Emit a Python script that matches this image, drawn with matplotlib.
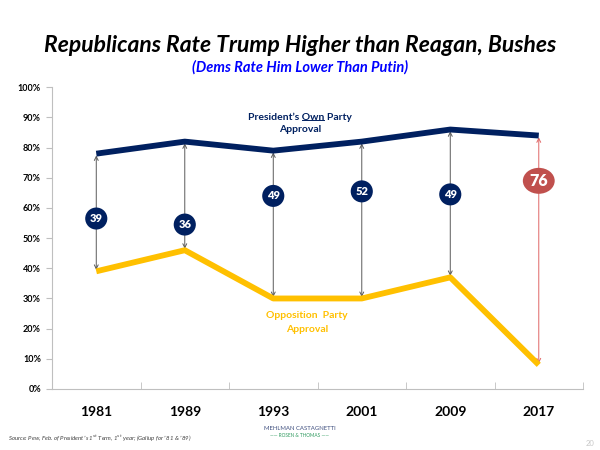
import matplotlib
matplotlib.use("Agg")
import matplotlib.pyplot as plt
from matplotlib.patches import Ellipse
from matplotlib.ticker import FuncFormatter

years = ["1981", "1989", "1993", "2001", "2009", "2017"]
own_party = [78, 82, 79, 82, 86, 84]
opposition = [39, 46, 30, 30, 37, 8]
gaps = [39, 36, 49, 52, 49, 76]
label_y = [56.5, 54.5, 64, 65.5, 64.5, 69]

NAVY = "#002060"
GOLD = "#FFC000"
RED = "#C0504D"
FONT = ["Lato", "DejaVu Sans"]

fig = plt.figure(figsize=(6, 4.5), dpi=100)
ax = fig.add_axes([0.0867, 0.1356, 0.885, 0.6704])
x = list(range(len(years)))

ax.plot(x, own_party, color=NAVY, lw=4.2, solid_capstyle="butt", zorder=3)
ax.plot(x, opposition, color=GOLD, lw=4.2, solid_capstyle="butt", zorder=3)

for i in x:
    col = "#E06666" if i == len(x) - 1 else "#595959"
    ax.annotate("", xy=(i, opposition[i] + 0.5), xytext=(i, own_party[i] - 0.6),
                arrowprops=dict(arrowstyle="<->", color=col, lw=0.7,
                                shrinkA=0, shrinkB=0, mutation_scale=7),
                zorder=2)
    if i == len(x) - 1:
        e = Ellipse((i, label_y[i]), 0.36, 8.6, facecolor=RED, edgecolor="none", zorder=4)
        ax.add_patch(e)
        ax.text(i, label_y[i], str(gaps[i]), color="white", fontsize=11.5, fontweight="heavy",
                ha="center", va="center", family=FONT, zorder=5)
    else:
        e = Ellipse((i, label_y[i]), 0.25, 7.3, facecolor=NAVY, edgecolor="none", zorder=4)
        ax.add_patch(e)
        ax.text(i, label_y[i], str(gaps[i]), color="white", fontsize=8, fontweight="heavy",
                ha="center", va="center", family=FONT, zorder=5)

ax.set_xlim(-0.5, len(years) - 0.5)
ax.set_ylim(0, 100)
ax.set_yticks(range(0, 101, 10))
ax.yaxis.set_major_formatter(FuncFormatter(lambda v, p: f"{int(v)}%"))
ax.set_xticks(x)
ax.set_xticks([i + 0.5 for i in x], minor=True)
ax.set_xticklabels(years, fontsize=10, fontweight="bold", family=FONT)
ax.tick_params(axis="x", which="major", length=0, pad=12)
ax.tick_params(axis="x", which="minor", length=5, color="#bfbfbf", direction="in")
ax.tick_params(axis="y", length=4, color="#bfbfbf", labelsize=6.5, pad=4)
for lbl in ax.get_yticklabels():
    lbl.set_family(FONT)
    lbl.set_fontweight("bold")
for s in ["top", "right"]:
    ax.spines[s].set_visible(False)
for s in ["left", "bottom"]:
    ax.spines[s].set_color("#bfbfbf")
    ax.spines[s].set_linewidth(0.8)

# Titles
fig.text(0.5, 1 - 45 / 450, "Republicans Rate Trump Higher than Reagan, Bushes", ha="center", va="center",
         fontsize=16.5, fontweight="bold", style="italic", family=FONT, color="black")
fig.text(0.5, 1 - 67.5 / 450, "(Dems Rate Him Lower Than Putin)", ha="center", va="center",
         fontsize=10.5, fontweight="bold", style="italic", family=FONT, color="#0000FF")

# Series annotations
fig.canvas.draw()
r = fig.canvas.get_renderer()
cx, cy = 300 / 600, 1 - 117 / 450
line1 = fig.text(cx, cy, "President\u2019s Own Party", ha="center", va="center",
                 fontsize=7.5, fontweight="bold", family=FONT, color=NAVY)
fig.text(cx, 1 - 130 / 450, "Approval", ha="center", va="center",
         fontsize=7.5, fontweight="bold", family=FONT, color=NAVY)
fig.canvas.draw()
bb = line1.get_window_extent(r)
tmp1 = fig.text(0, 0, "President\u2019s ", fontsize=7.5, fontweight="bold", family=FONT)
tmp2 = fig.text(0, 0, "Own", fontsize=7.5, fontweight="bold", family=FONT)
w1 = tmp1.get_window_extent(r).width
w2 = tmp2.get_window_extent(r).width
tmp1.remove(); tmp2.remove()
W, H = fig.bbox.width, fig.bbox.height
ux0 = (bb.x0 + w1) / W
ux1 = (bb.x0 + w1 + w2) / W
uy = (bb.y0 + 1.5) / H
fig.add_artist(plt.Line2D([ux0, ux1], [uy, uy], transform=fig.transFigure, color=NAVY, lw=0.7))

fig.text(307 / 600, 1 - 316 / 450, "Opposition  Party", ha="center", va="center",
         fontsize=7.5, fontweight="bold", family=FONT, color=GOLD)
fig.text(307 / 600, 1 - 330 / 450, "Approval", ha="center", va="center",
         fontsize=7.5, fontweight="bold", family=FONT, color=GOLD)

# Footer
fig.text(8 / 600, 1 - 438 / 450,
         "Source: Pew, Feb. of President\u2019s 1$^{st}$ Term, 1$^{st}$ year; (Gallup for \u201981 & \u201989)",
         ha="left", va="center", fontsize=4.3, style="italic", family=FONT, color="#404040")
fig.text(0.5, 1 - 429 / 450, "MEHLMAN CASTAGNETTI", ha="center", va="center",
         fontsize=4.3, family=FONT, color="#3F4F7F")
fig.text(0.5, 1 - 435.5 / 450, "\u2014\u2014 ROSEN & THOMAS \u2014\u2014", ha="center", va="center",
         fontsize=3.4, family=FONT, color="#2E9A5E")
fig.text(590 / 600, 1 - 443 / 450, "20", ha="center", va="center",
         fontsize=5.5, family=FONT, color="#c8c8c8")

fig.savefig("out.png", dpi=100)
